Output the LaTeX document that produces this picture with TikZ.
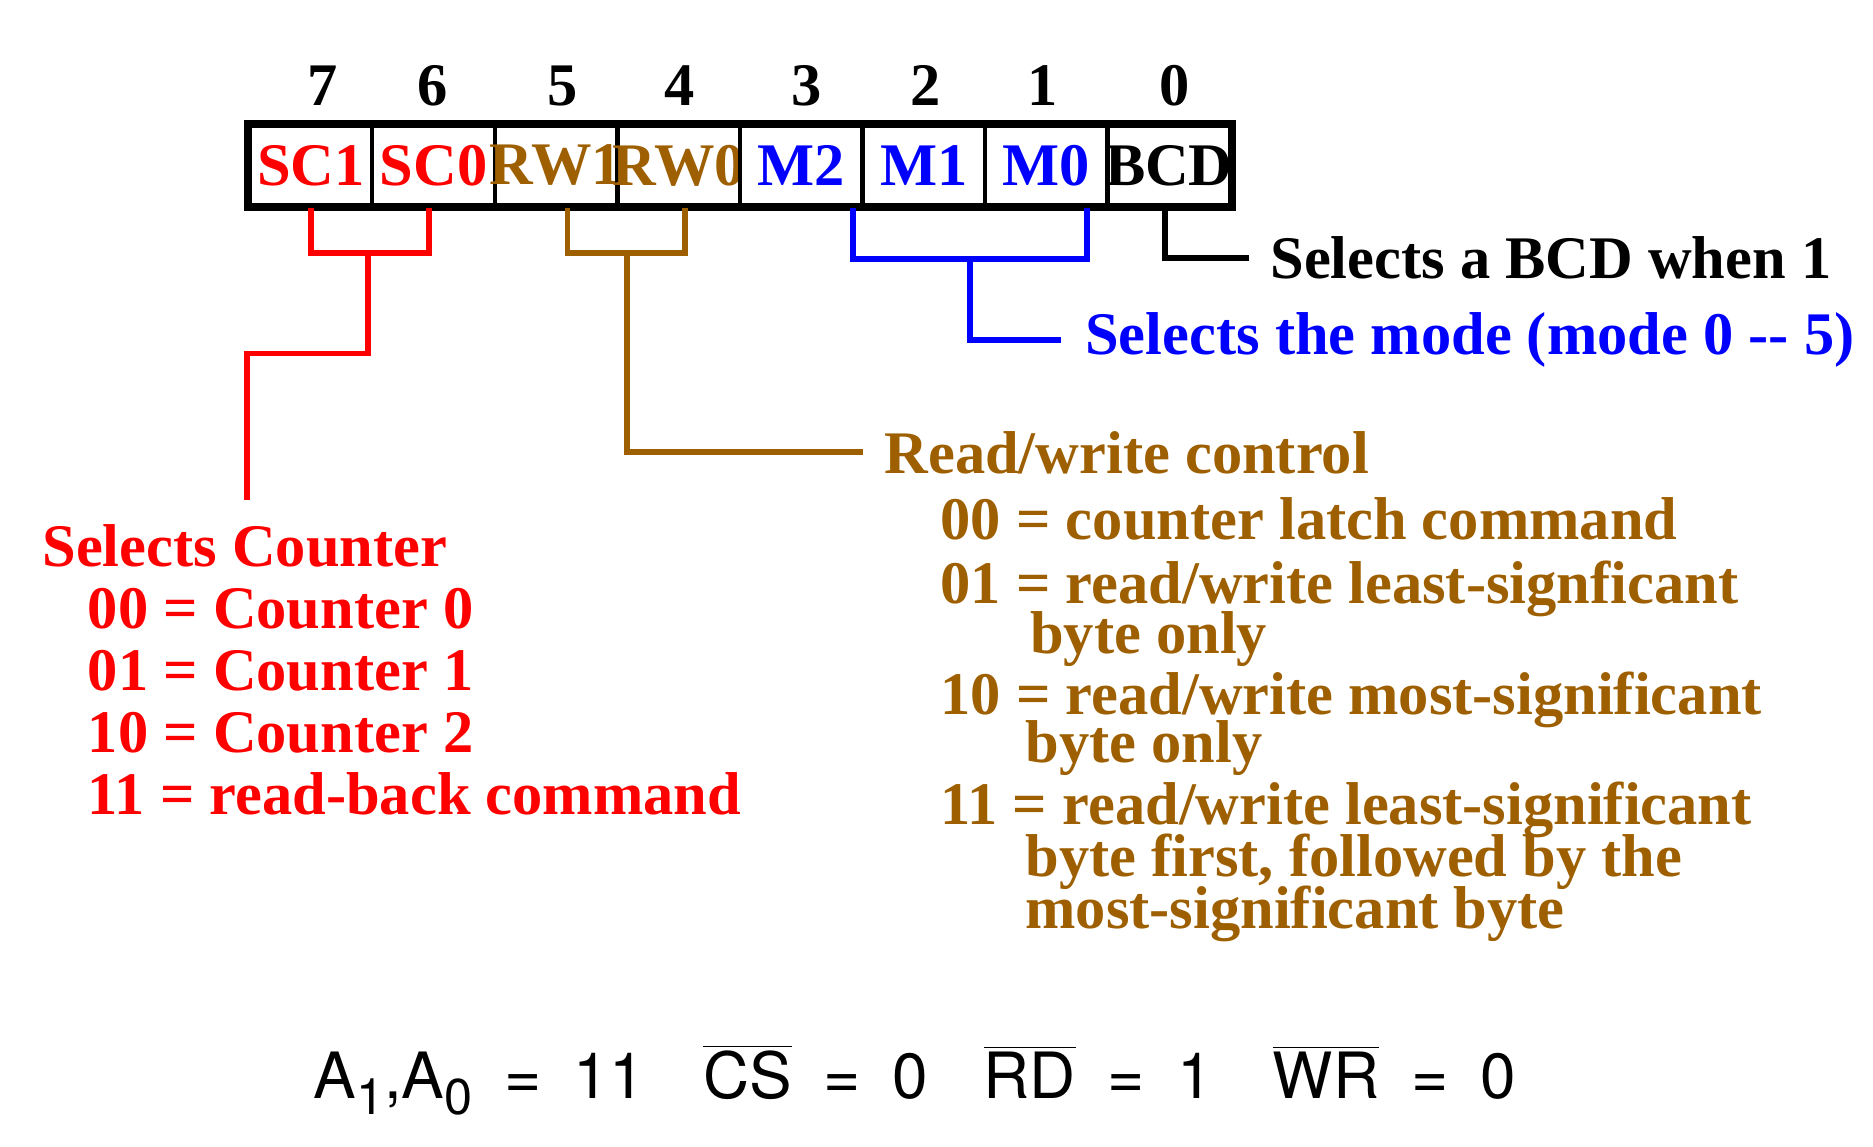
\documentclass[tikz,border=0pt]{standalone}
\usepackage{fontspec}
\setmainfont{Liberation Serif}
\setsansfont{TeX Gyre Heros}
\usetikzlibrary{calc}
\definecolor{rwbrown}{RGB}{158,95,0}
\definecolor{modeblue}{RGB}{0,0,255}
\newcommand\lowsub[1]{\raisebox{-0.25em}{\fontsize{15}{15}\selectfont #1}}

\begin{document}
\begin{tikzpicture}[x=0.0125cm, y=-0.0125cm,
    every node/.style={font=\fontsize{18}{22}\selectfont\bfseries},
    cell/.style={draw, line width=1.3pt, minimum width=1.2825cm, minimum height=0.8375cm, inner sep=0pt},
    bitno/.style={anchor=base, inner sep=0pt},
    tag/.style={anchor=base west, inner sep=0pt},
    sig/.style={anchor=base west, inner sep=0pt, font=\fontsize{19}{22}\selectfont\sffamily},
    bracket/.style={line width=1.7pt}]
    \useasboundingbox (0,0) rectangle (1568,960);

    % control word register, bit 7 on the left
    \foreach \b/\lab/\col/\nx [count=\k from 0] in {7/SC1/red/270, 6/SC0/red/362, 5/RW1/rwbrown/471, 4/RW0/rwbrown/569,
                                                   3/M2/modeblue/675, 2/M1/modeblue/775, 1/M0/modeblue/873, 0/BCD/black/983} {
        \node[cell, text=\col] (c\b) at ({260.3+\k*102.6}, 138.5) {\makebox[0pt]{\lab}};
        \node[bitno] (b\b) at (\nx, 88) {\b};
    }
    \draw[line width=1.9pt] (c7.north west) rectangle (c0.south east);

    % field descriptions
    \node[tag] (bcd) at (1063,233) {Selects a BCD when 1};
    \node[tag, text=modeblue] (mode) at (908,297) {Selects the mode (mode 0 -{}- 5)};

    \node[tag, text=rwbrown] (rw) at (740,396) {Read/write control};
    \node[tag, text=rwbrown] (rw0) at (787,452) {00 = counter latch command};
    \node[tag, text=rwbrown] (rw1) at (787,505) {01 = read/write least-signficant};
    \node[tag, text=rwbrown] (rw1b) at (862,547) {byte only};
    \node[tag, text=rwbrown] (rw2) at (787,598) {10 = read/write most-significant};
    \node[tag, text=rwbrown] (rw2b) at (858,638) {byte only};
    \node[tag, text=rwbrown] (rw3) at (787,690) {11 = read/write least-significant};
    \node[tag, text=rwbrown] (rw3b) at (858,734) {byte first, followed by the};
    \node[tag, text=rwbrown] (rw3c) at (858,777) {most-significant byte};

    \node[tag, text=red] (cnt) at (35,474) {Selects Counter};
    \foreach \v/\w [count=\k from 0] in {00/Counter 0, 01/Counter 1, 10/Counter 2, 11/read-back command}
        \node[tag, text=red] (cnt\k) at (73,{526+\k*52}) {\v{} = \w};

    % brackets
    \coordinate (rj) at (308,212);
    \coordinate (rk) at (207,296);
    \draw[bracket, red] (c7.south) |- (rj) -| ([xshift=-0.05cm]c6.south);
    \draw[bracket, red, shorten >=0.25cm] (rj) |- (rk) -- (rk |- cnt.north);

    \coordinate (bj) at (525,212);
    \draw[bracket, rwbrown] ([xshift=0.12cm]c5.south) |- (bj) -| ([xshift=0.07cm]c4.south);
    \draw[bracket, rwbrown, shorten >=0.22cm] (bj) |- (rw.west);

    \coordinate (mj) at (812,217);
    \draw[bracket, modeblue] ([xshift=-0.075cm]c2.south west) |- (mj) -| ([xshift=-0.19cm]c0.south west);
    \draw[bracket, modeblue, shorten >=0.25cm] (mj) |- (mode.west);

    \draw[line width=1.8pt, shorten >=0.22cm] ([xshift=-0.04cm]c0.south) |- (bcd.west);

    % chip select and address lines
    \node[sig] (addr) at (262,920) {A\lowsub{1},A\lowsub{0}\enspace=\enspace11};
    \node[sig] (cs) at (588,920) {$\overline{\mbox{CS}}$\enspace=\enspace0};
    \node[sig] (rd) at (823,920) {$\overline{\mbox{RD}}$\enspace=\enspace1};
    \node[sig] (wr) at (1065,920) {$\overline{\mbox{WR}}$\enspace=\enspace0};
\end{tikzpicture}
\end{document}
